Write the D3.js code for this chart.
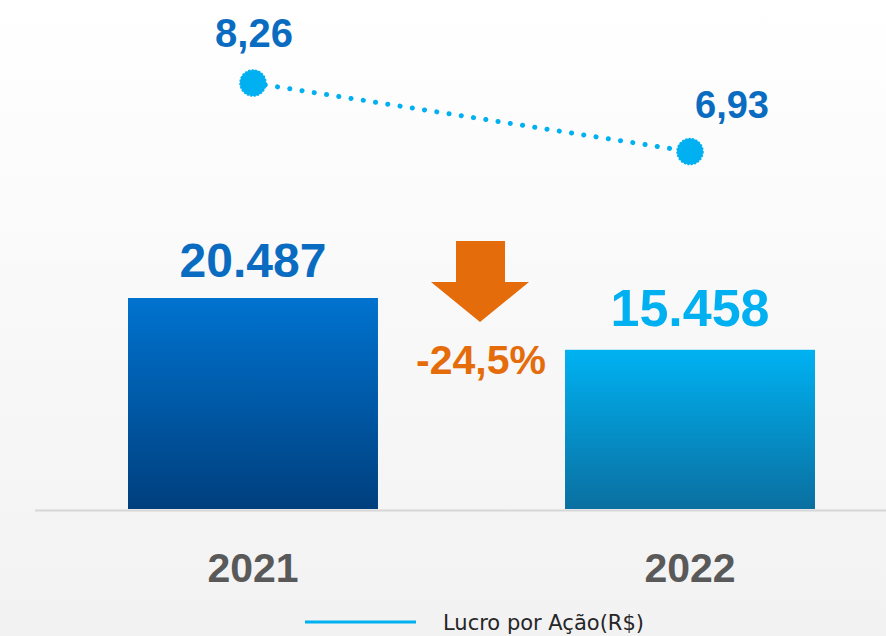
<!DOCTYPE html>
<html>
<head>
<meta charset="utf-8">
<script src="https://cdn.jsdelivr.net/npm/d3@7"></script>
<style>
  html, body { margin: 0; padding: 0; background: #fff; }
  svg { display: block; font-family: "Liberation Sans", Arial, sans-serif; }
</style>
</head>
<body>
<div id="chart"></div>
<script>
// chart data
const years = ["2021", "2022"];
const lucroLiquido = [20487, 15458];          // bars
const lucroLabels = ["20.487", "15.458"];
const lucroPorAcao = [8.26, 6.93];            // dotted line
const lpaLabels = ["8,26", "6,93"];
const variacaoLabel = "-24,5%";
const legendLabel = "Lucro por Ação(R$)";

const W = 886, H = 636;
const baseline = 509;

const svg = d3.select("#chart")
    .append("svg")
    .attr("width", W)
    .attr("height", H);

const defs = svg.append("defs");

// background gradient
const bg = defs.append("linearGradient").attr("id", "bg")
    .attr("x1", 0).attr("y1", 0).attr("x2", 0).attr("y2", 1);
bg.append("stop").attr("offset", "0%").attr("stop-color", "#ffffff");
bg.append("stop").attr("offset", "100%").attr("stop-color", "#f2f2f2");

// bar gradients
const barColors = [["#0073cf", "#003f7e"], ["#00b2f2", "#0a6fa0"]];
barColors.forEach((c, i) => {
    const g = defs.append("linearGradient").attr("id", "bar" + i)
        .attr("x1", 0).attr("y1", 0).attr("x2", 0).attr("y2", 1);
    g.append("stop").attr("offset", "0%").attr("stop-color", c[0]);
    g.append("stop").attr("offset", "100%").attr("stop-color", c[1]);
});

svg.append("rect")
    .attr("width", W).attr("height", H)
    .attr("fill", "url(#bg)");

// scales
const x = d3.scaleBand()
    .domain(years)
    .range([40.6, 902.4])
    .paddingInner(0.428)
    .paddingOuter(0.2);

const y = d3.scaleLinear()
    .domain([0, 49420])
    .range([baseline, 0]);

const y2 = d3.scaleLinear()
    .domain([0, 9.87])
    .range([baseline, 0]);

const cx = d => x(d) + x.bandwidth() / 2;

// bars
svg.selectAll("rect.bar")
    .data(years)
    .enter()
    .append("rect")
    .attr("class", "bar")
    .attr("x", d => x(d))
    .attr("y", (d, i) => y(lucroLiquido[i]))
    .attr("width", x.bandwidth())
    .attr("height", (d, i) => baseline - y(lucroLiquido[i]))
    .attr("fill", (d, i) => `url(#bar${i})`);

// baseline
svg.append("line")
    .attr("x1", 35).attr("x2", W)
    .attr("y1", baseline + 1.5).attr("y2", baseline + 1.5)
    .attr("stroke", "#d6d6d6")
    .attr("stroke-width", 2);

// bar value labels
const barLabelSize = [48, 52];
const barLabelColor = ["#0a6cc0", "#00b0f0"];
svg.selectAll("text.bar-label")
    .data(years)
    .enter()
    .append("text")
    .attr("class", "bar-label")
    .attr("x", d => cx(d))
    .attr("y", (d, i) => y(lucroLiquido[i]) - (i === 0 ? 21 : 24))
    .attr("text-anchor", "middle")
    .attr("font-weight", "bold")
    .attr("font-size", (d, i) => barLabelSize[i])
    .attr("fill", (d, i) => barLabelColor[i])
    .text((d, i) => lucroLabels[i]);

// year axis labels
svg.selectAll("text.year")
    .data(years)
    .enter()
    .append("text")
    .attr("class", "year")
    .attr("x", d => cx(d))
    .attr("y", 582)
    .attr("text-anchor", "middle")
    .attr("font-weight", "bold")
    .attr("font-size", 41)
    .attr("fill", "#595959")
    .text(d => d);

// dotted line for lucro por acao
const line = d3.line()
    .x(d => cx(d))
    .y((d, i) => y2(lucroPorAcao[i]));

svg.append("path")
    .datum(years)
    .attr("d", line)
    .attr("fill", "none")
    .attr("stroke", "#00b0f0")
    .attr("stroke-width", 5)
    .attr("stroke-linecap", "round")
    .attr("stroke-dasharray", "0.1 12.3");

svg.selectAll("circle.pt")
    .data(years)
    .enter()
    .append("circle")
    .attr("class", "pt")
    .attr("cx", d => cx(d))
    .attr("cy", (d, i) => y2(lucroPorAcao[i]))
    .attr("r", 13)
    .attr("fill", "#00b0f0")
    .attr("stroke", "#00b0f0")
    .attr("stroke-width", 1.5)
    .attr("stroke-dasharray", "2 1.5");

// line value labels
const lpaPos = [{ dx: 1, dy: -36, size: 40 }, { dx: 42, dy: -34, size: 38 }];
svg.selectAll("text.lpa")
    .data(years)
    .enter()
    .append("text")
    .attr("class", "lpa")
    .attr("x", (d, i) => cx(d) + lpaPos[i].dx)
    .attr("y", (d, i) => y2(lucroPorAcao[i]) + lpaPos[i].dy)
    .attr("text-anchor", "middle")
    .attr("font-weight", "bold")
    .attr("font-size", (d, i) => lpaPos[i].size)
    .attr("fill", "#0a6cc0")
    .text((d, i) => lpaLabels[i]);

// variation arrow
const ax = 480;
svg.append("path")
    .attr("d", `M${ax - 24},241 L${ax + 25},241 L${ax + 25},282 L${ax + 49},282 L${ax},322 L${ax - 49},282 L${ax - 24},282 Z`)
    .attr("fill", "#e46c0a");

svg.append("text")
    .attr("x", ax + 1)
    .attr("y", 374)
    .attr("text-anchor", "middle")
    .attr("font-weight", "bold")
    .attr("font-size", 41)
    .attr("fill", "#e46c0a")
    .text(variacaoLabel);

// legend
svg.append("line")
    .attr("x1", 305).attr("x2", 416)
    .attr("y1", 622).attr("y2", 622)
    .attr("stroke", "#00b0f0")
    .attr("stroke-width", 3);

svg.append("text")
    .attr("x", 443)
    .attr("y", 630)
    .attr("font-family", "'DejaVu Sans', sans-serif")
    .attr("font-size", 21)
    .attr("fill", "#262626")
    .text(legendLabel);
</script>
</body>
</html>
